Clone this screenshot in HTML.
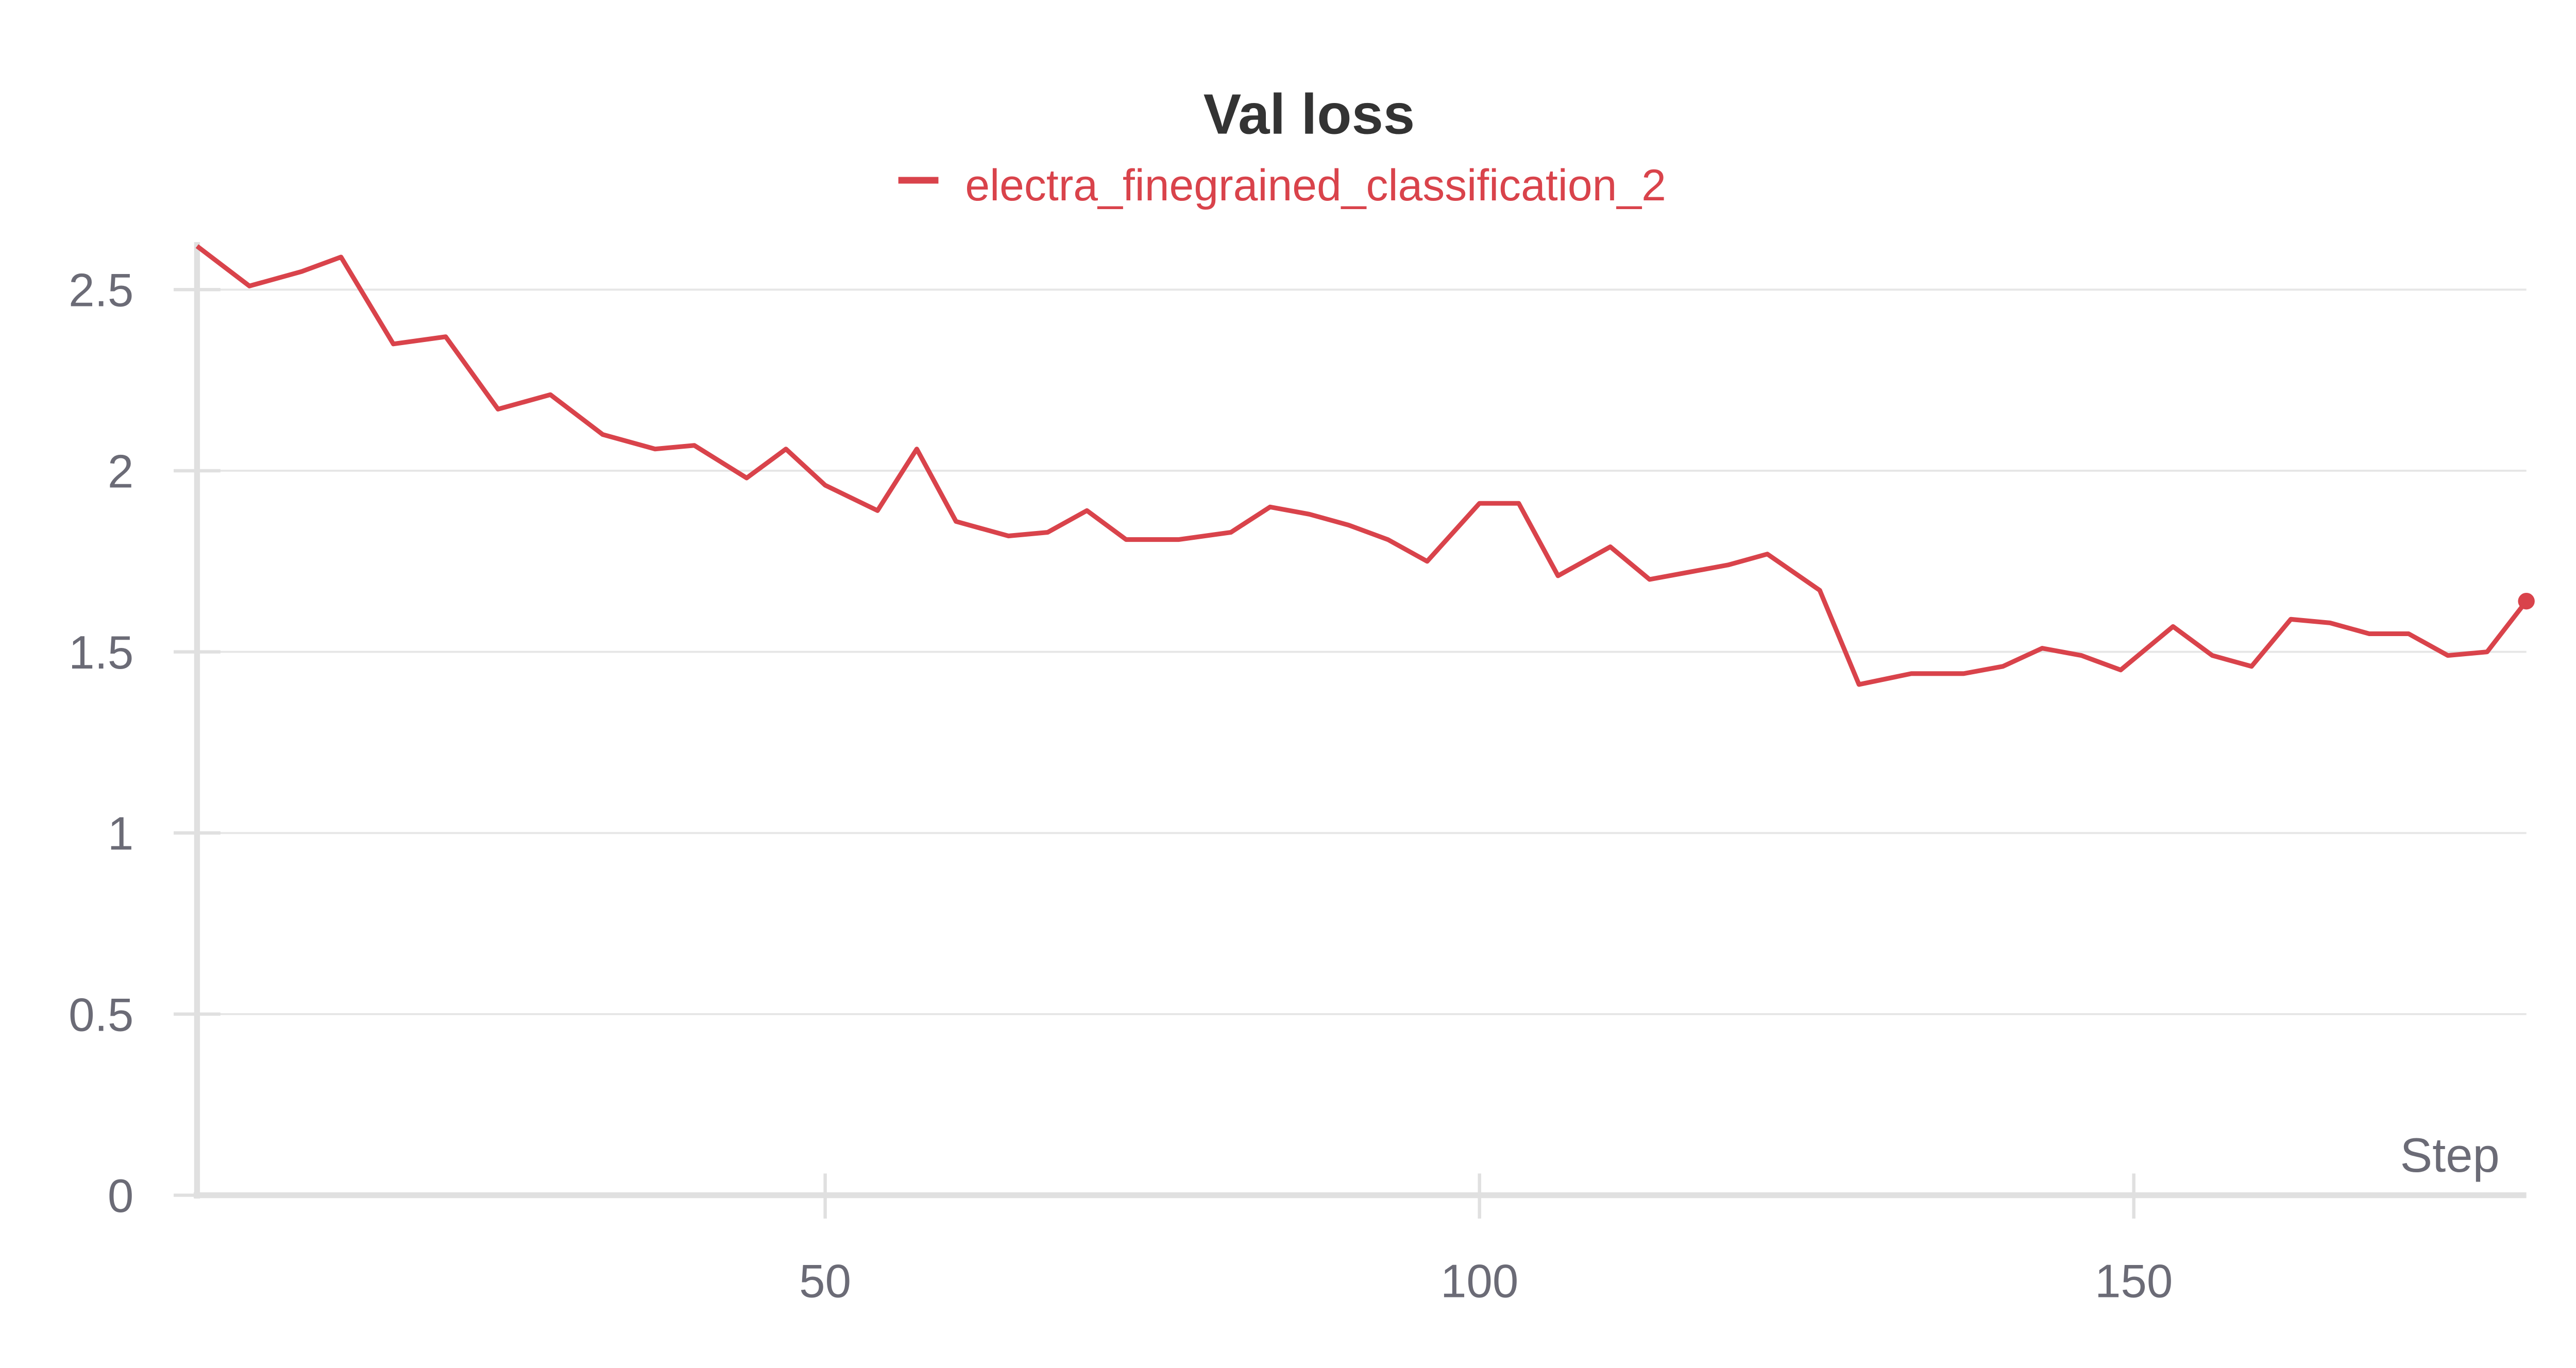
<!DOCTYPE html>
<html><head><meta charset="utf-8">
<style>
html,body{margin:0;padding:0;background:#fff;}
svg{display:block;}
text{font-family:"Liberation Sans",sans-serif;}
</style></head>
<body>
<svg id="chart" width="5056" height="2656" viewBox="0 0 1560 819.5" xmlns="http://www.w3.org/2000/svg">
<rect x="0" y="0" width="1560" height="819.5" fill="#fff"/>
<text x="784" y="80" text-anchor="middle" font-size="34" font-weight="bold" fill="#333">Val loss</text>
<g>
<line x1="538" y1="108" x2="562" y2="108" stroke="#d9434b" stroke-width="4"/>
<text x="578" y="120" font-size="26.5" fill="#d9434b">electra_finegrained_classification_2</text>
</g>
<g id="grid"></g>
<g id="axes"></g>
<g id="series"></g>
<text x="1497" y="702" text-anchor="end" font-size="29" fill="#6b6b76">Step</text>
</svg>
<script>
const steps=[2,6,10,13,17,21,25,29,33,37,40,44,47,50,54,57,60,64,67,70,73,77,81,84,87,90,93,96,100,103,106,110,113,116,119,122,126,129,133,137,140,143,146,149,153,156,159,162,165,168,171,174,177,180];
const losses=[2.62,2.51,2.55,2.59,2.35,2.37,2.17,2.21,2.10,2.06,2.07,1.98,2.06,1.96,1.89,2.06,1.86,1.82,1.83,1.89,1.81,1.81,1.83,1.90,1.88,1.85,1.81,1.75,1.91,1.91,1.71,1.79,1.70,1.72,1.74,1.77,1.67,1.41,1.44,1.44,1.46,1.51,1.49,1.45,1.57,1.49,1.46,1.59,1.58,1.55,1.55,1.49,1.50,1.64];
const yTicks=[0,0.5,1,1.5,2,2.5];
const yTickLabels=["0","0.5","1","1.5","2","2.5"];
const xTicks=[50,100,150];
const xTickLabels=["50","100","150"];
const NS="http://www.w3.org/2000/svg";
const X0=118,X1=1513,Y0=716,PER=217;
const xMin=2,xMax=180;
function sx(v){return X0+(v-xMin)/(xMax-xMin)*(X1-X0);}
function sy(v){return Y0-v*PER;}
function mk(tag,attrs,parent){const e=document.createElementNS(NS,tag);for(const k in attrs)e.setAttribute(k,attrs[k]);document.getElementById(parent).appendChild(e);return e;}
yTicks.forEach((t,i)=>{
  const y=sy(t);
  if(t>0){const g=mk('line',{x1:X0,x2:X1,y1:y,y2:y,stroke:'#e6e6e6','stroke-width':1.2},'grid');
  
  }
  const tk=mk('line',{x1:104,x2:132,y1:y,y2:y,stroke:'#e0e0e0','stroke-width':2},'axes');
  
  
  const lb=mk('text',{x:80,y:y+10,'text-anchor':'end','font-size':28,fill:'#6b6b76'},'axes');
  lb.textContent=yTickLabels[i];
  
  
});
xTicks.forEach((t,i)=>{
  const x=sx(t);
  const tk=mk('line',{x1:x,x2:x,y1:703,y2:730,stroke:'#e0e0e0','stroke-width':2},'axes');
  
  
  const lb=mk('text',{x:x,y:777,'text-anchor':'middle','font-size':28,fill:'#6b6b76'},'axes');
  lb.textContent=xTickLabels[i];
  
  
});
const ya=mk('line',{x1:X0,x2:X0,y1:145,y2:Y0+2,stroke:'#e0e0e0','stroke-width':3.5},'axes');


const xa=mk('line',{x1:X0-2,x2:X1,y1:Y0,y2:Y0,stroke:'#e0e0e0','stroke-width':3.5},'axes');


const pts=steps.map((s,i)=>sx(s).toFixed(2)+','+sy(losses[i]).toFixed(2)).join(' ');
const pl=mk('polyline',{points:pts,fill:'none',stroke:'#d9434b','stroke-width':2.8,'stroke-linejoin':'round'},'series');


const li=steps.length-1;
const dot=mk('circle',{cx:sx(steps[li]),cy:sy(losses[li]),r:5,fill:'#d9434b'},'series');


</script>
</body></html>
